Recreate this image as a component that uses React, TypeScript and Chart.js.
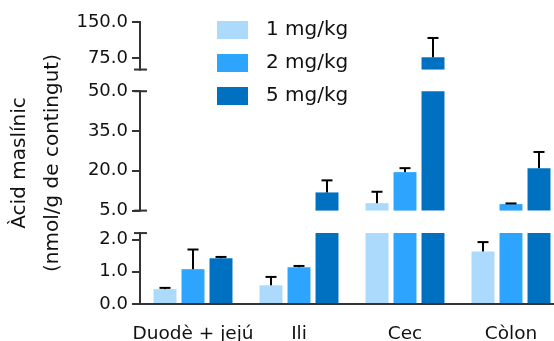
import React, { useEffect, useRef } from 'react';
import { Chart, registerables, LinearScale } from 'chart.js';

Chart.register(...registerables);

// ---- data ----
const CATEGORIES = ['Duodè + jejú', 'Ili', 'Cec', 'Còlon'];
const SERIES_LABELS = ['1 mg/kg', '2 mg/kg', '5 mg/kg'];
const VALUES_1MG = [0.46, 0.58, 7.8, 1.63];
const VALUES_2MG = [1.08, 1.14, 19.5, 7.45];
const VALUES_5MG = [1.42, 11.85, 77.3, 21.0];
const SD_1MG = [0.04, 0.26, 4.3, 0.29];
const SD_2MG = [0.61, 0.04, 1.5, 0.25];
const SD_5MG = [0.04, 4.55, 39.8, 6.1];
const Y_TICKS = [0, 1, 2, 5, 20, 35, 50, 75, 150];
const SEGMENT_MIN = [0, 5, 52];
const SEGMENT_MAX = [2.2, 50, 150];
const Y_TITLE = ['Àcid maslínic', '(nmol/g de contingut)'];

// ---- styles / layout ----
const COLORS = ['#ABDAFD', '#2DA5FF', '#0071C1'];
const SEG_PX = [71, 119.5, 47.6];
const GAP_PX = [22.5, 21.7];
const FONT = 'DejaVu Sans';
const TEXT = '#111111';
const AXIS = '#333333';

const SERIES = [VALUES_1MG, VALUES_2MG, VALUES_5MG];
const SDS = [SD_1MG, SD_2MG, SD_5MG];

class BrokenScale extends LinearScale {
  static id = 'broken';
  static defaults = LinearScale.defaults;
  buildTicks() {
    return Y_TICKS.map((v) => ({ value: v }));
  }
  getPixelForValue(value: any) {
    if (value === null || value === undefined || isNaN(value)) return NaN;
    const total = SEG_PX.reduce((a, b) => a + b, 0) + GAP_PX.reduce((a, b) => a + b, 0);
    const k = (this.bottom - this.top) / total;
    let off = 0;
    for (let i = 0; i < SEGMENT_MIN.length; i++) {
      const lo = SEGMENT_MIN[i];
      const hi = SEGMENT_MAX[i];
      if (i > 0 && value < lo) {
        const prevHi = SEGMENT_MAX[i - 1];
        const t = (value - prevHi) / (lo - prevHi);
        return this.bottom - k * (off - GAP_PX[i - 1] + t * GAP_PX[i - 1]);
      }
      if (value <= hi || i === SEGMENT_MIN.length - 1) {
        return this.bottom - k * (off + ((value - lo) / (hi - lo)) * SEG_PX[i]);
      }
      off += SEG_PX[i] + (GAP_PX[i] || 0);
    }
    return NaN;
  }
  getValueForPixel(pixel: number) {
    let best = 0;
    let bestD = Infinity;
    for (let v = 0; v <= 150; v += 0.05) {
      const d = Math.abs(this.getPixelForValue(v) - pixel);
      if (d < bestD) { bestD = d; best = v; }
    }
    return best;
  }
}
Chart.register(BrokenScale as any);

const overlayPlugin = {
  id: 'overlay',
  afterDatasetsDraw(chart: any) {
    const ys = chart.scales.y;
    const ctx = chart.ctx;
    ctx.save();
    ctx.fillStyle = '#000';
    SERIES.forEach((vals, s) => {
      const meta = chart.getDatasetMeta(s * SEGMENT_MIN.length);
      vals.forEach((v, i) => {
        const bar = meta.data[i];
        if (!bar) return;
        const x = bar.x;
        const y0 = ys.getPixelForValue(v);
        const y1 = ys.getPixelForValue(v + SDS[s][i]);
        ctx.fillRect(x - 1, y1, 2, Math.max(y0 - y1, 0));
        ctx.fillRect(x - 5.5, y1 - 1, 11, 2);
      });
    });
    ctx.restore();
  },
  afterDraw(chart: any) {
    const ys = chart.scales.y;
    const ctx = chart.ctx;
    const left = chart.chartArea.left;
    ctx.save();
    ctx.fillStyle = AXIS;
    for (let i = 0; i < SEGMENT_MIN.length; i++) {
      const yb = ys.getPixelForValue(SEGMENT_MIN[i]);
      const yt = ys.getPixelForValue(SEGMENT_MAX[i]);
      ctx.fillRect(left - 1, yt - 1, 2, yb - yt + 2);
      if (i < SEGMENT_MIN.length - 1) ctx.fillRect(left - 6, yt - 1, 13, 2);
      if (i > 0) ctx.fillRect(left - 6, yb - 1, 13, 2);
    }
    // legend
    ctx.font = `20px "${FONT}"`;
    ctx.textBaseline = 'middle';
    ctx.textAlign = 'left';
    SERIES_LABELS.forEach((lab, s) => {
      const top = 21 + s * 33;
      ctx.fillStyle = COLORS[s];
      ctx.fillRect(217, top, 31, 18);
      ctx.fillStyle = TEXT;
      ctx.fillText(lab, 266, top + 9);
    });
    ctx.restore();
  },
};

export default function App() {
  const ref = useRef<HTMLCanvasElement | null>(null);
  useEffect(() => {
    if (!ref.current) return;
    Chart.defaults.font.family = FONT;
    const datasets: any[] = [];
    SERIES.forEach((vals, s) => {
      SEGMENT_MIN.forEach((lo, k) => {
        datasets.push({
          label: SERIES_LABELS[s],
          stack: 's' + s,
          backgroundColor: COLORS[s],
          borderWidth: 0,
          data: vals.map((v) =>
            k === 0 || v > lo ? [lo, Math.min(v, SEGMENT_MAX[k])] : null
          ),
          categoryPercentage: 0.7925,
          barPercentage: 0.82,
        });
      });
    });
    const chart = new Chart(ref.current, {
      type: 'bar',
      data: { labels: CATEGORIES, datasets },
      plugins: [overlayPlugin],
      options: {
        animation: false,
        responsive: false,
        devicePixelRatio: 1,
        events: [],
        layout: { padding: { top: 22, left: 0, right: 0, bottom: 0 } },
        plugins: { legend: { display: false }, tooltip: { enabled: false } },
        scales: {
          x: {
            type: 'category',
            offset: true,
            grid: { display: false },
            border: { display: true, color: AXIS, width: 2 },
            ticks: { padding: 11, autoSkip: false, maxRotation: 0, color: TEXT, font: { size: 18.5 } },
            afterFit: (s: any) => { s.height = 37; },
          },
          y: {
            type: 'broken' as any,
            min: 0,
            max: 150,
            stacked: false,
            grid: { display: true, drawOnChartArea: false, drawTicks: true, tickLength: 8, color: AXIS, lineWidth: 2 },
            border: { display: false },
            ticks: {
              autoSkip: false,
              padding: 4,
              color: TEXT,
              font: { size: 18 },
              callback: (v: any) => Number(v).toFixed(1),
            },
            title: {
              display: true,
              text: Y_TITLE,
              color: TEXT,
              font: { size: 20, lineHeight: 1.65 },
              padding: { top: 3, bottom: 0 },
            },
            afterFit: (s: any) => { s.width = 140; },
          },
        },
      } as any,
    });
    return () => chart.destroy();
  }, []);
  return (
    <div style={{ position: 'fixed', left: 0, top: 0, width: 554, height: 341, overflow: 'hidden', background: '#fff' }}>
      <canvas ref={ref} width={564} height={341} style={{ width: '564px', height: '341px', display: 'block' }} />
    </div>
  );
}
